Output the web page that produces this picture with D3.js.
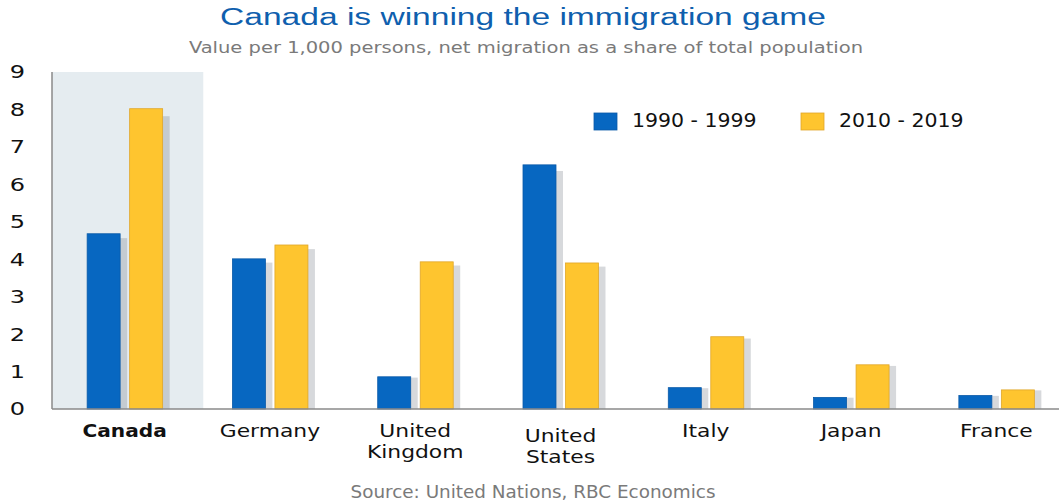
<!DOCTYPE html>
<html><head><meta charset="utf-8">
<script src="https://cdn.jsdelivr.net/npm/d3@7/dist/d3.min.js"></script>
<style>body{margin:0;background:#fff}svg{display:block}</style>
</head><body>
<svg id="c" width="1059" height="503"></svg>
<script>
const categories = ["Canada","Germany","United Kingdom","United States","Italy","Japan","France"];
const labelLines = [["Canada"],["Germany"],["United","Kingdom"],["United","States"],["Italy"],["Japan"],["France"]];
const series1990 = [4.68, 4.01, 0.86, 6.52, 0.57, 0.31, 0.36];
const series2010 = [8.02, 4.38, 3.93, 3.90, 1.93, 1.18, 0.51];
const seriesNames = ["1990 - 1999", "2010 - 2019"];
const yTicks = [0,1,2,3,4,5,6,7,8,9];

(function(){
const svg = d3.select("#c");
const pLeft = 52, pRight = 1069, pTop = 72, pBottom = 409;
const x = d3.scaleBand().domain(categories).range([pLeft, pRight]);
const y = d3.scaleLinear().domain([0, 9]).range([pBottom, pTop]);
const colors = ["#0767c1", "#fec52f"];
const strokes = ["#0a5aa8", "#e0a62a"];
const barW = 33;
const DV = "DejaVu Sans, Verdana, sans-serif";

function stretched(px, py, sx, anchor) {
  return svg.append("g").attr("transform", `translate(${px},${py}) scale(${sx},1)`)
    .append("text").attr("x", 0).attr("y", 0).attr("text-anchor", anchor || "middle");
}

const tt = stretched(523, 25, 1, "middle")
  .attr("font-family","Liberation Sans, Arial, sans-serif").attr("font-size", 23.5)
  .attr("fill","#0f5fae").text("Canada is winning the immigration game");
const tw = tt.node().getComputedTextLength();
d3.select(tt.node().parentNode).attr("transform", `translate(523,25) scale(${606/tw},1)`);

svg.append("text").attr("x", 526).attr("y", 53).attr("text-anchor","middle")
  .attr("font-family","DejaVu Sans Condensed, DejaVu Sans, sans-serif").attr("font-size", 16)
  .attr("fill","#7a7a7a").attr("textLength", 674).attr("lengthAdjust","spacingAndGlyphs")
  .text("Value per 1,000 persons, net migration as a share of total population");

svg.append("rect").attr("x", x("Canada")).attr("y", pTop)
  .attr("width", x.step() + 6).attr("height", pBottom - pTop).attr("fill", "#e5ecf0");

const offsets = [-37.5, 5];
[series1990, series2010].forEach((vals, si) => {
  categories.forEach((c, i) => {
    const bx = x(c) + x.bandwidth()/2 + offsets[si];
    const h = (pBottom - y(vals[i])) * 0.975;
    svg.append("rect").attr("x", bx + 7).attr("y", pBottom - h)
      .attr("width", barW).attr("height", h)
      .attr("fill", "rgba(110,120,130,0.28)");
  });
});
[series1990, series2010].forEach((vals, si) => {
  categories.forEach((c, i) => {
    const bx = x(c) + x.bandwidth()/2 + offsets[si];
    const by = y(vals[i]);
    svg.append("rect").attr("x", bx).attr("y", by)
      .attr("width", barW).attr("height", pBottom - by)
      .attr("fill", colors[si]).attr("stroke", strokes[si]).attr("stroke-width", 0.8);
  });
});

svg.append("line").attr("x1", pLeft).attr("x2", 1059).attr("y1", pBottom).attr("y2", pBottom)
  .attr("stroke", "#8a8a8a").attr("stroke-width", 1.5);
svg.append("line").attr("x1", pLeft).attr("x2", pLeft).attr("y1", pTop).attr("y2", pBottom)
  .attr("stroke", "#8a8a8a").attr("stroke-width", 1.5);

const ysx = 1.3;
const yAxis = d3.axisLeft(y).tickValues(yTicks).tickSize(0).tickPadding(27).tickFormat(d3.format("d"));
const ya = svg.append("g").attr("transform", `translate(${pLeft},0)`).call(yAxis);
ya.select(".domain").remove();
ya.selectAll("text").attr("font-family", DV).attr("font-size", 18.5).attr("fill","#111")
  .attr("x", -27 / ysx).attr("transform", `scale(${ysx},1)`);

const labelY = [437, 437, 437, 442, 437, 437, 437];
categories.forEach((c, i) => {
  const cx = x(c) + x.bandwidth()/2;
  const t = stretched(cx, labelY[i], i === 0 ? 1.09 : 1.18, "middle")
    .attr("font-family", DV).attr("font-size", 18.5)
    .attr("fill","#111").attr("font-weight", i === 0 ? "bold" : "normal");
  labelLines[i].forEach((ln, j) => {
    t.append("tspan").attr("x", 0).attr("dy", j === 0 ? 0 : 21).text(ln);
  });
});

const legX = [594, 801];
seriesNames.forEach((n, i) => {
  svg.append("rect").attr("x", legX[i]).attr("y", 113).attr("width", 23).attr("height", 17)
    .attr("fill", colors[i]).attr("stroke", strokes[i]).attr("stroke-width", 0.8);
  stretched(legX[i] + 38, 127, 1.05, "start")
    .attr("font-family", DV).attr("font-size", 19.5)
    .attr("fill","#111").text(n);
});

stretched(533, 498, 1.05, "middle")
  .attr("font-family", DV).attr("font-size", 17.5)
  .attr("fill","#7a7a7a").text("Source: United Nations, RBC Economics");
})();
</script>
</body></html>
